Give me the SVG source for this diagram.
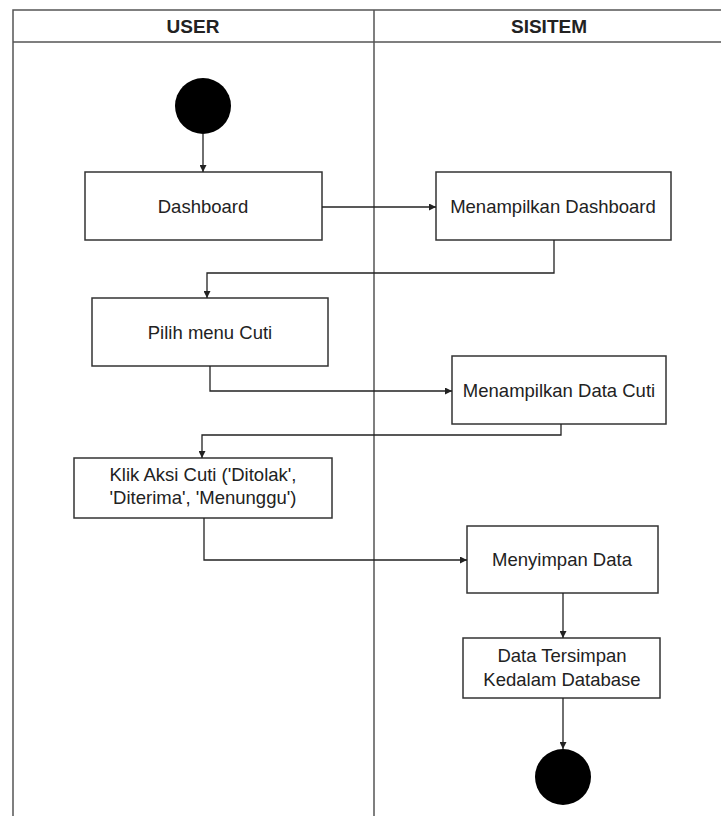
<svg xmlns="http://www.w3.org/2000/svg" width="721" height="816" viewBox="0 0 721 816">
<style>
.lane{fill:none;stroke:#555;stroke-width:1.5}
.box rect{fill:#fff;stroke:#333;stroke-width:1.5}
.box text,.hdr{font-family:"Liberation Sans",Arial,sans-serif;font-size:18.5px;fill:#222;text-anchor:middle}
.hdr{font-weight:bold;font-size:19px}
.con path{fill:none;stroke:#222;stroke-width:1.3;marker-end:url(#arr)}
</style>
<defs>
<marker id="arr" viewBox="0 0 10 10" refX="10" refY="5" markerWidth="7" markerHeight="7" orient="auto" markerUnits="userSpaceOnUse">
<path d="M0,0 L10,5 L0,10 z" fill="#222"/>
</marker>
</defs>
<rect width="721" height="816" fill="#fff"/>
<g id="swimlanes">
<path class="lane" d="M13,816 V10 H721"/>
<path class="lane" d="M13,42 H721"/>
<path class="lane" d="M374,10 V816"/>
<text class="hdr" x="193" y="33">USER</text>
<text class="hdr" x="549" y="33">SISITEM</text>
</g>
<g id="start"><circle cx="203" cy="106" r="28" fill="#000"/></g>
<g id="dashboard" class="box"><rect x="85" y="172" width="237" height="68"/><text x="203" y="213">Dashboard</text></g>
<g id="menampilkan-dashboard" class="box"><rect x="436" y="172" width="235" height="68"/><text x="553" y="213">Menampilkan Dashboard</text></g>
<g id="pilih-menu" class="box"><rect x="92" y="298" width="236" height="68"/><text x="210" y="339">Pilih menu Cuti</text></g>
<g id="menampilkan-data" class="box"><rect x="452" y="356" width="214" height="68"/><text x="559" y="397">Menampilkan Data Cuti</text></g>
<g id="klik-aksi" class="box"><rect x="74" y="458" width="258" height="60"/><text x="203" y="481">Klik Aksi Cuti ('Ditolak',</text><text x="203" y="504">'Diterima', 'Menunggu')</text></g>
<g id="menyimpan" class="box"><rect x="467" y="526" width="191" height="67"/><text x="562" y="566">Menyimpan Data</text></g>
<g id="tersimpan" class="box"><rect x="463" y="638" width="197" height="60"/><text x="562" y="662">Data Tersimpan</text><text x="562" y="686">Kedalam Database</text></g>
<g id="end"><circle cx="563" cy="777" r="28" fill="#000"/></g>
<g id="connectors" class="con">
<path d="M203,134 V172"/>
<path d="M322,207 H436"/>
<path d="M554,240 V273 H207 V298"/>
<path d="M210,366 V391 H452"/>
<path d="M561,424 V435 H202 V458"/>
<path d="M204,518 V560 H467"/>
<path d="M563,593 V638"/>
<path d="M563,698 V749"/>
</g>
</svg>
